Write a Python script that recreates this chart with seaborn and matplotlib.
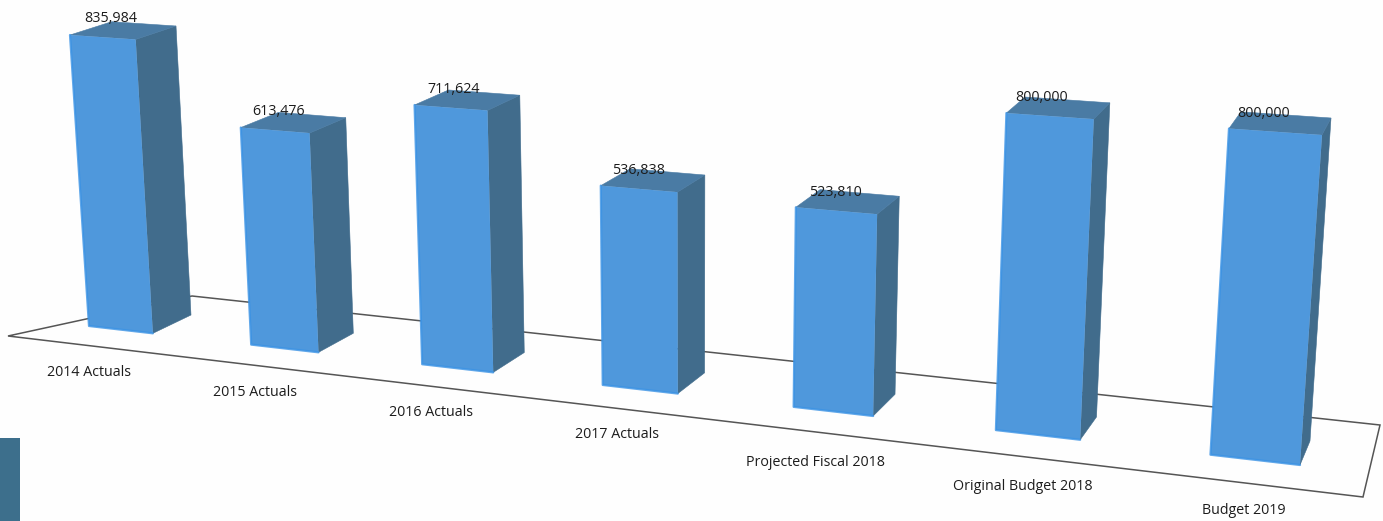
import numpy as np
import pandas as pd
import matplotlib
matplotlib.use("Agg")
import matplotlib.pyplot as plt
from matplotlib.patches import Polygon, Rectangle
from matplotlib.transforms import Transform
import seaborn as sns

# ---- data ----
categories = ["2014 Actuals", "2015 Actuals", "2016 Actuals", "2017 Actuals",
              "Projected Fiscal 2018", "Original Budget 2018", "Budget 2019"]
values = [835984, 613476, 711624, 536838, 523810, 800000, 800000]

# ---- layout of the perspective ----
W, H = 1383, 521
BAR_W = 0.4
FRONT = {(-0.2, 0): (89, 326), (6.2, 0): (1300, 465),
         (-0.2, 835984): (70, 35), (6.2, 800000): (1322, 135)}
BACK = {(0.2, 0): (191, 315), (6.2, 0): (1310, 441),
        (0.2, 835984): (176, 26), (6.2, 800000): (1331, 118)}
FLOOR = [(8, 336), (192, 296), (1380, 425), (1363, 497)]
LABEL_XY = [(89, 372), (255, 393), (431, 413), (617, 435),
            (815, 462), (1023, 486), (1244, 510)]
VALUE_DX = [8, 4, 2.5, -0.5, -1, -8.5, -11.5]
VALUE_DY = -18.5

C_FRONT, C_SIDE, C_TOP = "#4f98dc", "#416c8c", "#4a7ba4"
C_EDGE = "#3a92e4"
C_FLOOR = "#555555"


def solve_h(pairs):
    A, b = [], []
    for (x, y), (u, v) in pairs.items():
        y = y / 1e5
        A.append([x, y, 1, 0, 0, 0, -u * x, -u * y]); b.append(u)
        A.append([0, 0, 0, x, y, 1, -v * x, -v * y]); b.append(v)
    h = np.linalg.solve(np.array(A, float), np.array(b, float))
    return np.append(h, 1).reshape(3, 3)


class Persp(Transform):
    input_dims = output_dims = 2
    is_separable = False
    has_inverse = False

    def __init__(self, M):
        super().__init__()
        self.M = M

    def transform_non_affine(self, xy):
        xy = np.asarray(xy, float)
        q = np.c_[xy[:, 0], xy[:, 1] / 1e5, np.ones(len(xy))] @ self.M.T
        return q[:, :2] / q[:, 2:]


front = Persp(solve_h(FRONT))
back = Persp(solve_h(BACK))

sns.set_theme(style="white")
plt.rcParams["font.family"] = ["Open Sans", "DejaVu Sans"]
fig = plt.figure(figsize=(W / 100, H / 100), dpi=100, facecolor="#fefefe")
ax = fig.add_axes([0, 0, 1, 1])
df = pd.DataFrame({"category": categories, "value": values})
sns.barplot(data=df, x="category", y="value", width=BAR_W, color=C_FRONT,
            saturation=1, ax=ax, zorder=3)
bars = list(ax.patches)
ax.set_xlim(0, W)
ax.set_ylim(H, 0)
ax.axis("off")

ax.add_patch(Polygon(FLOOR, closed=True, fc="none", ec=C_FLOOR, lw=1.1, zorder=1))
ax.add_patch(Rectangle((0, 438), 20, 83, fc="#3d6f8c", ec="none", zorder=1))

for rect in bars:
    x0, x1 = rect.get_x(), rect.get_x() + rect.get_width()
    v = rect.get_height()
    rect.set_transform(front + ax.transData)
    rect.set_edgecolor("none")
    fb, ft = front.transform([(x1, 0), (x1, v)])
    bb, bt = back.transform([(x1, 0), (x1, v)])
    fl, fbl = front.transform([(x0, v), (x0, 0)])
    bl = back.transform([(x0, v)])[0]
    ax.add_patch(Polygon([fb, ft, bt, bb], fc=C_SIDE, ec=C_SIDE, lw=0.4, zorder=2))
    ax.add_patch(Polygon([fl, ft, bt, bl], fc=C_TOP, ec=C_TOP, lw=0.4, zorder=2))
    ax.plot(*zip(fl, fbl, fb), color=C_EDGE, lw=1.6, alpha=0.8, zorder=4,
            solid_joinstyle="round")

for i, (cat, v) in enumerate(zip(categories, values)):
    ax.annotate(f"{v:,}", xy=(i, v), xycoords=front + ax.transData,
                xytext=(VALUE_DX[i] * 0.72, -VALUE_DY * 0.72), textcoords="offset points",
                ha="center", va="center", fontsize=10.3, color="#1c1c1c", zorder=5)
    ax.text(*LABEL_XY[i], cat, ha="center", va="center", fontsize=10.3,
            color="#1c1c1c", zorder=5)

fig.savefig("out.png", dpi=100, facecolor=fig.get_facecolor())
